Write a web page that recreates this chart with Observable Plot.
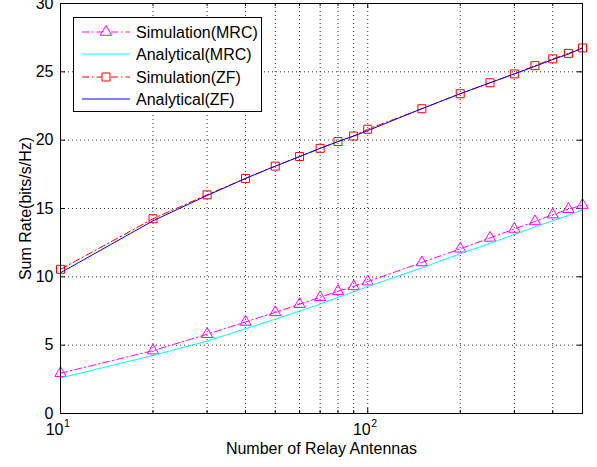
<!DOCTYPE html>
<html>
<head>
<meta charset="utf-8">
<script src="https://cdn.jsdelivr.net/npm/d3@7"></script>
<script src="https://cdn.jsdelivr.net/npm/@observablehq/plot@0.6"></script>
<style>
  html, body { margin: 0; padding: 0; background: #fff; }
  #wrap { position: relative; width: 597px; height: 467px; font-family: "Liberation Sans", Arial, sans-serif; }
  #legend { position: absolute; left: 73px; top: 17px; width: 187px; height: 93px; border: 1px solid #000; background: #fff; }
  #legend svg { position: absolute; left: 0; top: 0; }
</style>
</head>
<body>
<div id="wrap"><div id="legend"></div></div>
<script>
const antennas = [10, 20, 30, 40, 50, 60, 70, 80, 90, 100, 150, 200, 250, 300, 350, 400, 450, 500];
const simMRC  = [2.95, 4.6, 5.8, 6.7, 7.4, 8.0, 8.5, 8.95, 9.3, 9.65, 11.05, 12.05, 12.85, 13.5, 14.05, 14.55, 14.95, 15.25];
const anaMRC  = [2.6, 4.25, 5.3, 6.2, 6.9, 7.5, 8.0, 8.5, 8.9, 9.3, 10.65, 11.7, 12.45, 13.1, 13.65, 14.1, 14.5, 14.9];
const simZF   = [10.55, 14.25, 16.0, 17.2, 18.1, 18.8, 19.4, 19.9, 20.3, 20.8, 22.3, 23.4, 24.2, 24.85, 25.45, 25.95, 26.35, 26.75];
const anaZF   = [10.3, 14.1, 15.95, 17.2, 18.1, 18.8, 19.4, 19.9, 20.3, 20.7, 22.3, 23.4, 24.2, 24.85, 25.4, 25.9, 26.3, 26.75];

const seriesNames = ["Simulation(MRC)", "Analytical(MRC)", "Simulation(ZF)", "Analytical(ZF)"];
const seriesColors = ["#ff00ff", "#00ffff", "#ff0000", "#0000ff"];
const seriesMarkers = ["triangle", null, "square", null];
const seriesDash = ["7,3,1.5,3", null, "7,3,1.5,3", null];
const seriesValues = [simMRC, anaMRC, simZF, anaZF];

const yTicks = [0, 5, 10, 15, 20, 25, 30];
const xMajor = [10, 100];
const xMajorExp = ["1", "2"];
const xMinor = [20, 30, 40, 50, 60, 70, 80, 90, 200, 300, 400, 500];
const xGrid = [20, 30, 40, 50, 60, 70, 80, 90, 100, 200, 300, 400];
const yGrid = [5, 10, 15, 20, 25];

const W = 597, H = 467, mL = 60, mR = 15, mT = 3, mB = 54;
const pW = W - mL - mR, pH = H - mT - mB;
const FS = 16;

const rows = [];
seriesValues.forEach((vals, s) => vals.forEach((v, i) => rows.push({s, x: antennas[i], y: v})));

const marks = [
  Plot.ruleY(yGrid, {y: d => d, stroke: "#000", strokeOpacity: 0.8, strokeDasharray: "1,3"}),
  Plot.ruleX(xGrid, {x: d => d, stroke: "#000", strokeOpacity: 0.8, strokeDasharray: "1,3"}),
  // ticks inward
  Plot.tickY(yTicks, {y: d => d, insetRight: pW - 5, stroke: "#000"}),
  Plot.tickY(yTicks, {y: d => d, insetLeft: pW - 5, stroke: "#000"}),
  Plot.tickX(xMinor, {x: d => d, insetTop: pH - 3, stroke: "#000"}),
  Plot.tickX(xMinor, {x: d => d, insetBottom: pH - 3, stroke: "#000"}),
  Plot.tickX(xMajor, {x: d => d, insetTop: pH - 5, stroke: "#000"}),
  Plot.tickX(xMajor, {x: d => d, insetBottom: pH - 5, stroke: "#000"}),
];

seriesValues.forEach((vals, s) => {
  const data = rows.filter(r => r.s === s);
  marks.push(Plot.line(data, {x: "x", y: "y", stroke: seriesColors[s], strokeWidth: 1,
    strokeDasharray: seriesDash[s] || undefined}));
  if (seriesMarkers[s]) {
    marks.push(Plot.dot(data, {x: "x", y: "y", symbol: seriesMarkers[s], stroke: seriesColors[s],
      fill: "none", strokeWidth: 1, r: seriesMarkers[s] === "triangle" ? 4.2 : 4.5}));
  }
});

marks.push(
  Plot.frame({stroke: "#000", strokeWidth: 1}),
  Plot.axisY({ticks: yTicks, tickSize: 0, tickPadding: 7, label: "Sum Rate(bits/s/Hz)",
    labelAnchor: "center", labelArrow: "none", labelOffset: 41, fontSize: FS}),
  Plot.text(xMajor, {x: d => d, frameAnchor: "bottom", text: d => "10", textAnchor: "end",
    dx: 3, dy: 21, fontSize: FS, fill: "#000"}),
  Plot.text(xMajor, {x: d => d, frameAnchor: "bottom", text: (d, i) => xMajorExp[i], textAnchor: "start",
    dx: 3.5, dy: 13, fontSize: 10.5, fill: "#000"}),
  Plot.text(["Number of Relay Antennas"], {frameAnchor: "bottom", text: d => d,
    dy: 40, fontSize: FS, fill: "#000"})
);

const chart = Plot.plot({
  width: W, height: H,
  marginLeft: mL, marginRight: mR, marginTop: mT, marginBottom: mB,
  style: {fontFamily: "'Liberation Sans', Arial, sans-serif", fontSize: FS + "px", color: "#000", background: "#fff"},
  x: {type: "log", domain: [10, 500], axis: null},
  y: {domain: [0, 30], axis: null},
  marks
});
chart.style.position = "absolute";
chart.style.left = "0";
chart.style.top = "0";
document.getElementById("wrap").prepend(chart);

// legend
const lg = d3.select("#legend").append("svg").attr("width", 187).attr("height", 93);
const rowY = [14, 36, 59, 81];
seriesNames.forEach((name, s) => {
  const y = rowY[s];
  lg.append("line").attr("x1", 8).attr("x2", 56).attr("y1", y).attr("y2", y)
    .attr("stroke", seriesColors[s]).attr("stroke-width", 1)
    .attr("stroke-dasharray", seriesDash[s] || null);
  if (seriesMarkers[s]) {
    const sym = seriesMarkers[s] === "triangle" ? d3.symbolTriangle : d3.symbolSquare;
    const size = seriesMarkers[s] === "triangle" ? Math.PI * 4.2 * 4.2 : Math.PI * 4.5 * 4.5;
    lg.append("path").attr("d", d3.symbol(sym, size)()).attr("transform", `translate(32,${y})`)
      .attr("fill", "#fff").attr("stroke", seriesColors[s]);
  }
  lg.append("text").attr("x", 62).attr("y", y).attr("dy", "0.35em")
    .attr("font-size", FS).attr("fill", "#000").text(name);
});
</script>
</body>
</html>
